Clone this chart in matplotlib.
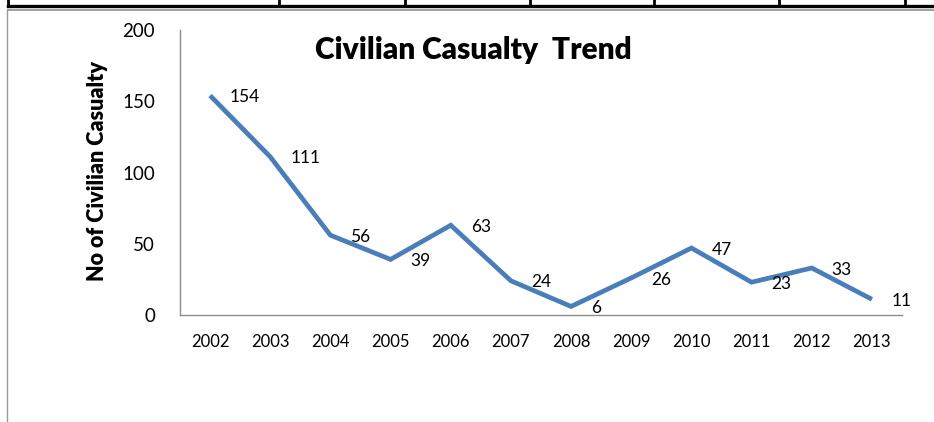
import matplotlib
matplotlib.use("Agg")
import matplotlib.pyplot as plt
from matplotlib.lines import Line2D

years = ["2002", "2003", "2004", "2005", "2006", "2007", "2008", "2009", "2010", "2011", "2012", "2013"]
casualties = [154, 111, 56, 39, 63, 24, 6, 26, 47, 23, 33, 11]
y_ticks = [0, 50, 100, 150, 200]

W, H = 934, 422
plt.rcParams['font.family'] = ['Lato', 'DejaVu Sans']
fig = plt.figure(figsize=(W / 100, H / 100), dpi=100)
fig.patch.set_facecolor('white')

def fx(px):
    return px / W

def fy(py):
    return 1 - py / H

ax = fig.add_axes([fx(180), fy(315), fx(902) - fx(180), fy(30) - fy(315)])
x = list(range(len(years)))
ax.plot(x, casualties, color='#4a7ebb', lw=3.4, solid_joinstyle='miter', solid_capstyle='butt')
for xi, v in zip(x, casualties):
    ax.annotate(str(v), (xi, v), xytext=(14.4, -1.2), textcoords='offset points',
                ha='left', va='center', fontsize=12.5, color='black')

ax.set_xlim(-0.5, len(years) - 0.5)
ax.set_ylim(0, 200)
ax.set_xticks(x)
ax.set_xticklabels(years, fontsize=12)
ax.set_yticks(y_ticks)
ax.set_yticklabels([str(t) for t in y_ticks], fontsize=13.5)
ax.tick_params(axis='both', length=0)
ax.tick_params(axis='x', pad=14)
ax.tick_params(axis='y', pad=18)
for s in ['top', 'right']:
    ax.spines[s].set_visible(False)
for s in ['left', 'bottom']:
    ax.spines[s].set_color('#8c8c8c')
    ax.spines[s].set_linewidth(1.0)

ax.set_ylabel("No of Civilian Casualty", fontsize=15.5, fontweight='heavy')
ax.yaxis.set_label_coords((108 - 180) / 722, 0.505)

fig.text(fx(473), fy(50), "Civilian Casualty  Trend", fontsize=21.5, fontweight='heavy',
         ha='center', va='center')

# table borders at top
fig.add_artist(Line2D([fx(8), fx(934)], [fy(5.5), fy(5.5)], color='black', lw=2.4,
                      transform=fig.transFigure))
for vx in [8, 279, 405, 530, 654, 779, 905]:
    fig.add_artist(Line2D([fx(vx), fx(vx)], [fy(0), fy(6)], color='black', lw=2.0,
                          transform=fig.transFigure))
fig.add_artist(Line2D([fx(8), fx(934)], [fy(9.5), fy(9.5)], color='#a0a0a0', lw=1.4,
                      transform=fig.transFigure))
fig.add_artist(Line2D([fx(7), fx(7)], [fy(10), fy(422)], color='#9a9a9a', lw=1.0,
                      transform=fig.transFigure))

fig.savefig("out.png", dpi=100)
